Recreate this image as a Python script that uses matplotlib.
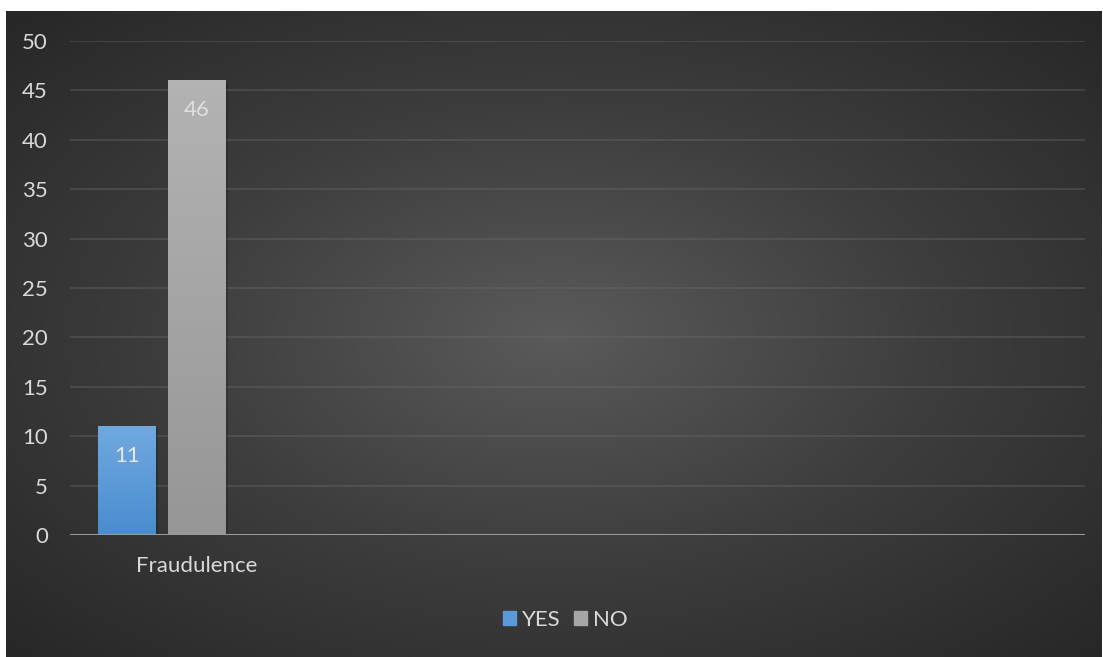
import numpy as np
import matplotlib
matplotlib.use("Agg")
import matplotlib.pyplot as plt
from matplotlib.patches import Rectangle
from matplotlib.colors import LinearSegmentedColormap

plt.rcParams["font.family"] = ["Lato", "DejaVu Sans"]

categories = ["Fraudulence"]
series_names = ["YES", "NO"]
yes_values = [11]
no_values = [46]
y_ticks = list(range(0, 55, 5))

W, H = 1103, 657
fig = plt.figure(figsize=(W / 100, H / 100), dpi=100)
fig.patch.set_facecolor("white")

# radial dark background for the chart area
bg = fig.add_axes([6 / W, 0, 1 - 7 / W, 1 - 11 / H])
bg.set_axis_off()
yy, xx = np.mgrid[0:300, 0:500]
cx, cy = 250, 150
r = np.sqrt(((xx - cx) / 250) ** 2 + ((yy - cy) / 150) ** 2) / np.sqrt(2)
bg_cmap = LinearSegmentedColormap.from_list("bg", ["#5a5a5a", "#3d3d3d", "#272727"])
bg.imshow(r, cmap=bg_cmap, aspect="auto", extent=[0, 1, 0, 1], vmin=0, vmax=1)
bg.set_xlim(0, 1)
bg.set_ylim(0, 1)

# plot area: x 70..1085 px, y 41..535 px
ax = fig.add_axes([70 / W, 1 - 535 / H, (1085 - 70) / W, (535 - 41) / H])
ax.patch.set_alpha(0)

slot = 145.0
x = np.arange(len(categories))
bar_w = 58 / slot
offset = 35 / slot

def gradient_bar(xc, h, top, bottom):
    cm = LinearSegmentedColormap.from_list("g", [bottom, top])
    grad = np.linspace(0, 1, 100).reshape(-1, 1)
    # soft shadow
    ax.add_patch(Rectangle((xc - bar_w / 2 + 0.012, 0), bar_w, h - 0.15,
                           color="black", alpha=0.18, lw=0, zorder=2))
    ax.imshow(grad, cmap=cm, aspect="auto", origin="lower",
              extent=[xc - bar_w / 2, xc + bar_w / 2, 0, h], zorder=3)

for i, c in enumerate(categories):
    gradient_bar(x[i] - offset, yes_values[i], "#70a9e0", "#4a8cd0")
    gradient_bar(x[i] + offset, no_values[i], "#b3b3b3", "#969696")
    ax.text(x[i] - offset, yes_values[i] - 3.0, str(yes_values[i]),
            ha="center", va="center", color="#e6e6e6", fontsize=16, zorder=5)
    ax.text(x[i] + offset, no_values[i] - 3.0, str(no_values[i]),
            ha="center", va="center", color="#e0e0e0", fontsize=16, zorder=5)

ax.set_xlim(-(162 - 70) / slot, (1085 - 162) / slot)
ax.set_ylim(0, 50)
ax.set_yticks(y_ticks)
ax.set_yticklabels([str(t) for t in y_ticks], color="#d9d9d9", fontsize=16)
ax.set_xticks(x + 35 / slot)
ax.set_xticklabels(categories, color="#d9d9d9", fontsize=16)
ax.tick_params(axis="both", length=0)
ax.tick_params(axis="y", pad=16)
ax.tick_params(axis="x", pad=15)
for t in y_ticks[1:]:
    ax.axhline(t, color="#6a6a6a", lw=1.2, alpha=0.45, zorder=1)
ax.axhline(0, color="#9a9a9a", lw=2.2, zorder=4)
for s in ax.spines.values():
    s.set_visible(False)

# legend
handles = [Rectangle((0, 0), 1, 1, color="#5a9ad8"),
           Rectangle((0, 0), 1, 1, color="#a6a6a6")]
leg = fig.legend(handles, series_names, loc="center", bbox_to_anchor=(565 / W, 1 - 620 / H),
                 ncol=2, frameon=False, fontsize=16, handlelength=0.6, handleheight=0.6,
                 handletextpad=0.25, columnspacing=0.6)
for t in leg.get_texts():
    t.set_color("#d9d9d9")

fig.savefig("out.png", dpi=100)
